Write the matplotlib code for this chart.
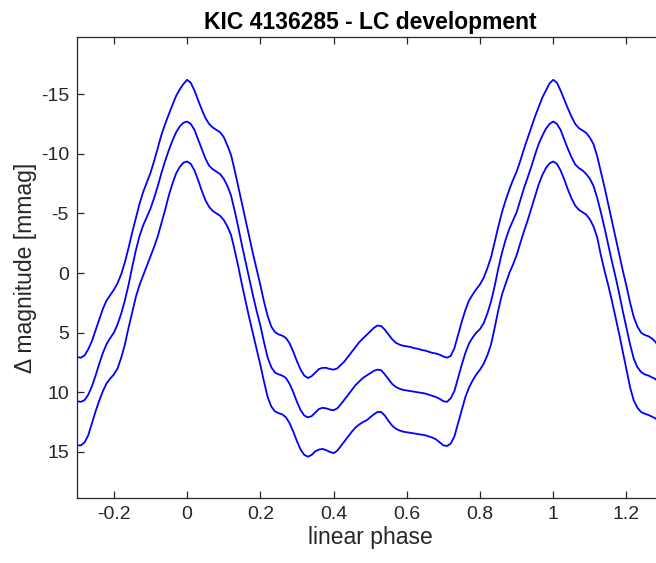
import matplotlib
matplotlib.use("Agg")
import matplotlib.pyplot as plt
import numpy as np

plt.rcParams['font.family'] = ['Liberation Sans', 'DejaVu Sans']
plt.rcParams['axes.unicode_minus'] = False
plt.rcParams['savefig.bbox'] = 'standard'

# phase grid the curves were read on: -0.30 ... 1.29 in steps of 0.01
phase = np.round(np.arange(-30, 130) / 100.0, 2)

# delta magnitude [mmag], one list per curve
mag_top = [7.05, 7.1, 6.9, 6.4, 5.7, 4.8, 3.9, 3.0, 2.3, 1.85,
           1.4, 0.85, 0.1, -0.9, -2.1, -3.4, -4.6, -5.8, -6.8, -7.6,
           -8.4, -9.4, -10.5, -11.6, -12.5, -13.3, -14.1, -14.85, -15.4, -15.85,
           -16.2, -15.95, -15.3, -14.5, -13.7, -13.0, -12.5, -12.2, -12.0, -11.8,
           -11.4, -10.7, -9.9, -8.6, -7.2, -5.8, -4.4, -3.0, -1.6, -0.3,
           1.0, 2.4, 3.6, 4.5, 4.95, 5.15, 5.25, 5.45, 5.9, 6.6,
           7.4, 8.1, 8.6, 8.8, 8.65, 8.35, 8.05, 7.95, 7.95, 8.05,
           8.1, 8.0, 7.7, 7.4, 7.0, 6.6, 6.2, 5.8, 5.5, 5.2,
           4.9, 4.6, 4.4, 4.45, 4.75, 5.15, 5.55, 5.85, 6.0, 6.1,
           6.15, 6.2, 6.3, 6.35, 6.45, 6.5, 6.6, 6.7, 6.75, 6.85,
           7.0, 7.1, 6.95, 6.3, 5.2, 4.1, 3.1, 2.3, 1.8, 1.35,
           0.95, 0.4, -0.4, -1.3, -2.6, -3.9, -5.1, -6.1, -7.0, -7.8,
           -8.5, -9.4, -10.4, -11.3, -12.2, -13.1, -13.9, -14.7, -15.3, -15.9,
           -16.2, -15.95, -15.3, -14.55, -13.8, -13.1, -12.5, -12.15, -11.95, -11.75,
           -11.35, -10.8, -9.8, -8.5, -7.2, -5.8, -4.4, -3.0, -1.6, -0.2,
           1.1, 2.5, 3.7, 4.5, 5.0, 5.2, 5.3, 5.5, 5.8, 6.3]

mag_mid = [10.75, 10.8, 10.65, 10.2, 9.5, 8.6, 7.6, 6.7, 5.95, 5.45,
           5.0, 4.3, 3.4, 2.3, 1.0, -0.5, -1.9, -3.1, -4.0, -4.7,
           -5.4, -6.3, -7.3, -8.4, -9.4, -10.3, -11.1, -11.8, -12.3, -12.6,
           -12.7, -12.5, -12.0, -11.2, -10.4, -9.6, -9.0, -8.7, -8.5, -8.3,
           -7.9, -7.3, -6.5, -5.2, -3.8, -2.3, -0.9, 0.5, 1.9, 3.2,
           4.4, 5.8, 7.1, 7.9, 8.35, 8.5, 8.6, 8.8, 9.3, 10.0,
           10.8, 11.5, 11.95, 12.1, 12.0, 11.7, 11.4, 11.3, 11.35, 11.45,
           11.5, 11.35, 11.0, 10.6, 10.2, 9.8, 9.4, 9.1, 8.8, 8.6,
           8.4, 8.2, 8.1, 8.15, 8.5, 8.9, 9.3, 9.55, 9.7, 9.8,
           9.85, 9.9, 9.95, 10.0, 10.05, 10.1, 10.2, 10.3, 10.4, 10.55,
           10.75, 10.8, 10.5, 9.9, 8.8, 7.7, 6.7, 5.9, 5.4, 5.0,
           4.7, 4.2, 3.4, 2.4, 1.1, -0.4, -1.7, -2.8, -3.7, -4.4,
           -5.1, -6.1, -7.1, -8.0, -8.9, -9.9, -10.8, -11.5, -12.1, -12.5,
           -12.7, -12.5, -12.0, -11.2, -10.4, -9.7, -9.1, -8.8, -8.6, -8.3,
           -7.9, -7.3, -6.3, -5.1, -3.8, -2.4, -1.0, 0.3, 1.7, 3.2,
           4.6, 6.0, 7.2, 7.9, 8.3, 8.5, 8.6, 8.75, 8.9, 9.3]

mag_bot = [14.45, 14.45, 14.2, 13.6, 12.6, 11.6, 10.7, 9.9, 9.25, 8.85,
           8.5, 8.0, 7.1, 6.0, 4.6, 3.3, 2.0, 1.0, 0.2, -0.6,
           -1.4, -2.2, -3.1, -4.2, -5.3, -6.5, -7.5, -8.35, -8.9, -9.25,
           -9.35, -9.15, -8.6, -7.8, -6.9, -6.1, -5.55, -5.2, -5.0, -4.8,
           -4.45, -3.9, -3.2, -1.9, -0.5, 1.0, 2.4, 3.8, 5.1, 6.4,
           7.7, 9.1, 10.4, 11.2, 11.6, 11.75, 11.85, 12.1, 12.6, 13.3,
           14.1, 14.8, 15.25, 15.4, 15.25, 14.95, 14.8, 14.75, 14.85, 15.0,
           15.1, 14.9, 14.5, 14.1, 13.7, 13.3, 12.95, 12.7, 12.5, 12.35,
           12.1, 11.85, 11.65, 11.65, 11.95, 12.4, 12.8, 13.05, 13.2, 13.3,
           13.35, 13.4, 13.45, 13.5, 13.55, 13.6, 13.7, 13.8, 13.95, 14.2,
           14.45, 14.5, 14.3, 13.7, 12.6, 11.5, 10.4, 9.6, 9.0, 8.5,
           8.1, 7.6, 6.9, 6.0, 4.6, 3.1, 1.8, 0.9, 0.0, -0.7,
           -1.5, -2.5, -3.5, -4.4, -5.4, -6.4, -7.4, -8.2, -8.8, -9.2,
           -9.35, -9.15, -8.6, -7.85, -7.0, -6.25, -5.65, -5.3, -5.1, -4.9,
           -4.5, -3.9, -3.0, -1.5, -0.2, 1.0, 2.3, 3.7, 5.1, 6.6,
           8.1, 9.6, 10.7, 11.3, 11.65, 11.8, 11.9, 12.05, 12.2, 12.6]

x_ticks = [-0.2, 0, 0.2, 0.4, 0.6, 0.8, 1, 1.2]
x_ticklabels = ['-0.2', '0', '0.2', '0.4', '0.6', '0.8', '1', '1.2']
y_ticks = [-15, -10, -5, 0, 5, 10, 15]
y_ticklabels = ['-15', '-10', '-5', '0', '5', '10', '15']

fig = plt.figure(figsize=(6.56, 5.63), dpi=100)
# axes runs a little past the right edge of the picture, as in the reference
ax = fig.add_axes([0.1178, 0.1155, 0.893, 0.8182])

for mg in [mag_top, mag_mid, mag_bot]:
    ax.plot(phase, mg, color='#0000ff', lw=1.3)

ax.set_xlim(-0.3, 1.3)
ax.set_ylim(18.86, -19.76)
ax.set_xticks(x_ticks)
ax.set_xticklabels(x_ticklabels)
ax.set_yticks(y_ticks)
ax.set_yticklabels(y_ticklabels)

gray = '#262626'
for s in ax.spines.values():
    s.set_color(gray)
    s.set_linewidth(0.9)
ax.tick_params(direction='in', length=5, width=0.9, colors=gray, labelsize=14,
               top=True, right=True, pad=6)

ax.set_xlabel('linear phase', fontsize=16.5, color=gray, labelpad=2)
ax.set_ylabel('Δ magnitude [mmag]', fontsize=16.5, color=gray, labelpad=3)
ax.set_title('KIC 4136285 - LC development', fontsize=16.5, fontweight='bold', pad=6)

fig.savefig('out.png', dpi=100)
